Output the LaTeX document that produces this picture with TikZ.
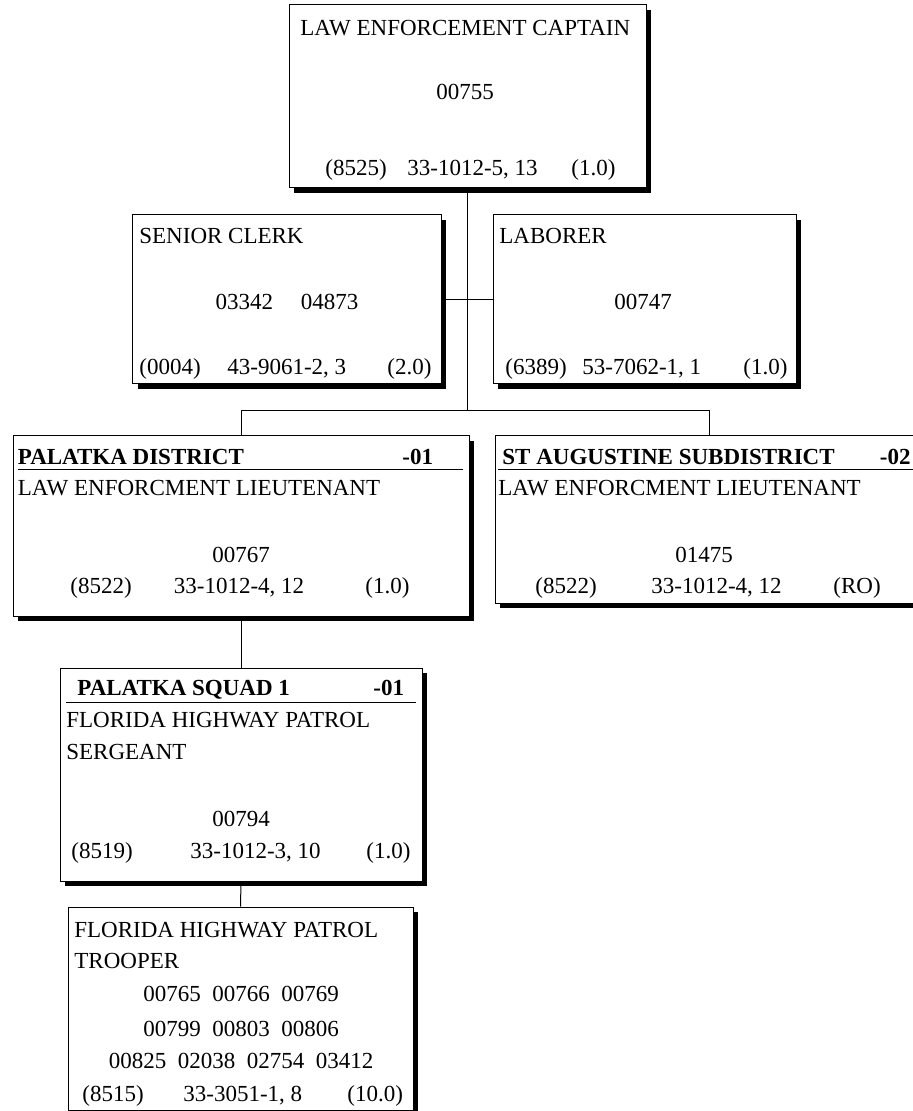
\documentclass[tikz,border=0pt]{standalone}
\usepackage{fontspec}
\setmainfont{Liberation Serif}
\usetikzlibrary{shadows}

\begin{document}
\begin{tikzpicture}[x=0.5pt,y=-0.5pt,
    posbox/.style={draw, fill=white, line width=0.5pt, inner sep=0pt,
      general shadow={fill=black, shadow xshift=2.6pt, shadow yshift=-2.6pt}},
    txt/.style={anchor=base west, inner sep=0pt, font=\fontsize{11.5}{13}\selectfont},
    num/.style={txt, anchor=base},
    hdr/.style={txt, font=\fontsize{11.5}{13}\selectfont\bfseries}]
  \useasboundingbox (0,0) rectangle (913,1111);
  \clip (0,0) rectangle (913,1111);

  % position boxes: name/left/top/right/bottom
  \foreach \n/\l/\t/\r/\b in {capt/289/5/646/188, clerk/132.5/215/441/384,
      labor/493/215/796/384, palatka/13/436/469/616, staug/495/436/923/603,
      squad/60/668/422/881, trooper/68/907/413/1110} {
    \node[posbox, minimum width={(\r-\l)*0.5pt}, minimum height={(\b-\t)*0.5pt}]
      (\n) at ({(\l+\r)/2},{(\t+\b)/2}) {};
  }

  % reporting lines
  \coordinate (bus) at (467.5,410.7);
  \draw[line width=0.5pt] (capt.south) -- (bus);
  \draw[line width=0.5pt] (clerk.east) -- (labor.west);
  \draw[line width=0.5pt] (palatka.north) |- (bus) -| (staug.north);
  \draw[line width=0.5pt] (palatka.south) -- (squad.north);
  \draw[line width=0.5pt] (squad.south) -- (trooper.north);

  % unit headers
  \node[hdr] (palatka-unit) at (17.5,465) {PALATKA DISTRICT};
  \node[hdr] (palatka-no) at (402,465) {-01};
  \draw[line width=0.5pt] (17.5,469.5) -- (463,469.5);
  \node[hdr] (staug-unit) at (502,465) {ST AUGUSTINE SUBDISTRICT};
  \node[hdr] (staug-no) at (879.5,465) {-02};
  \draw[line width=0.5pt] (498,469.5) -- (923,469.5);
  \node[hdr] (squad-unit) at (77,695) {PALATKA SQUAD 1};
  \node[hdr] (squad-no) at (373,695) {-01};
  \draw[line width=0.5pt] (66,702) -- (416,702);

  % class titles
  \node[txt] (capt-title) at (300,36) {LAW ENFORCEMENT CAPTAIN};
  \node[txt] (clerk-title) at (139,244) {SENIOR CLERK};
  \node[txt] (labor-title) at (499,244) {LABORER};
  \node[txt] (palatka-title) at (17.5,495) {LAW ENFORCMENT LIEUTENANT};
  \node[txt] (staug-title) at (498,495) {LAW ENFORCMENT LIEUTENANT};
  \node[txt] (squad-title) at (66,727) {FLORIDA HIGHWAY PATROL};
  \node[txt] (squad-title2) at (66,759) {SERGEANT};
  \node[txt] (trooper-title) at (74,937) {FLORIDA HIGHWAY PATROL};
  \node[txt] (trooper-title2) at (74,968) {TROOPER};

  % position numbers
  \node[num] (capt-pos) at (465,100) {00755};
  \node[num] (clerk-pos) at (287,310) {03342\hspace{1.2em}04873};
  \node[num] (labor-pos) at (643,310) {00747};
  \node[num] (palatka-pos) at (241,562) {00767};
  \node[num] (staug-pos) at (704,562) {01475};
  \node[num] (squad-pos) at (241,826) {00794};
  \node[num] (trooper-pos1) at (241,1001) {00765\enspace 00766\enspace 00769};
  \node[num] (trooper-pos2) at (241,1036) {00799\enspace 00803\enspace 00806};
  \node[num] (trooper-pos3) at (241,1068) {00825\enspace 02038\enspace 02754\enspace 03412};

  % class code, occupation code, FTE
  \foreach \n/\y/\xa/\a/\xb/\b/\xc/\c in {
      capt/176/325/(8525)/407/{33-1012-5, 13}/571/(1.0),
      clerk/375/139/(0004)/227/{43-9061-2, 3}/387/(2.0),
      labor/375/505/(6389)/582/{53-7062-1, 1}/743/(1.0),
      palatka/593/70/(8522)/173.5/{33-1012-4, 12}/365/(1.0),
      staug/593/535/(8522)/651/{33-1012-4, 12}/833/(RO),
      squad/858/71/(8519)/190/{33-1012-3, 10}/366/(1.0),
      trooper/1101/82/(8515)/183/{33-3051-1, 8}/347/(10.0)} {
    \node[txt] (\n-cls) at (\xa,\y) {\a};
    \node[txt] (\n-occ) at (\xb,\y) {\b};
    \node[txt] (\n-fte) at (\xc,\y) {\c};
  }
\end{tikzpicture}
\end{document}
